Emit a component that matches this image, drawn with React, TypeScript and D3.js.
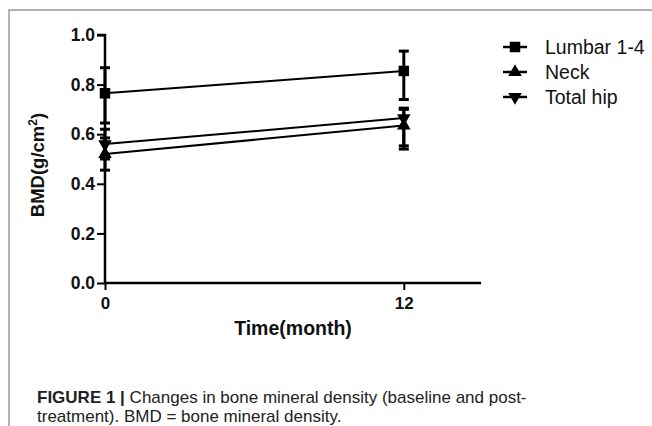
import React, { useRef, useEffect } from 'react';
import * as d3 from 'd3';

const months = [0, 12];
const seriesNames = ['Lumbar 1-4', 'Neck', 'Total hip'];
const lumbarMean = [0.765, 0.855];
const lumbarLow = [0.645, 0.74];
const lumbarHigh = [0.868, 0.935];
const neckMean = [0.52, 0.635];
const neckLow = [0.455, 0.54];
const neckHigh = [0.585, 0.705];
const hipMean = [0.56, 0.665];
const hipLow = [0.5, 0.553];
const hipHigh = [0.62, 0.7];
const yTicks = [0, 0.2, 0.4, 0.6, 0.8, 1.0];
const xTicks = [0, 12];

const App = () => {
    const svgRef = useRef(null);

    useEffect(() => {
        const svg = d3.select(svgRef.current);
        svg.selectAll("*").remove();
        const width = 652;
        const height = 426;

        // figure frame
        svg.append("path")
            .attr("d", `M9,${height} V10 H${width}`)
            .attr("fill", "none")
            .attr("stroke", "#9a9a9a")
            .attr("stroke-width", 1.5);

        const x = d3.scaleLinear().domain([0, 15.1]).range([105, 481]);
        const y = d3.scaleLinear().domain([0, 1]).range([283, 35]);

        const series = [
            { name: seriesNames[0], mean: lumbarMean, low: lumbarLow, high: lumbarHigh, sym: d3.symbolSquare, size: 110, rot: 0 },
            { name: seriesNames[1], mean: neckMean, low: neckLow, high: neckHigh, sym: d3.symbolTriangle, size: 80, rot: 0 },
            { name: seriesNames[2], mean: hipMean, low: hipLow, high: hipHigh, sym: d3.symbolTriangle, size: 80, rot: 180 },
        ];

        const font = "Liberation Sans, Arial, sans-serif";

        // y axis
        const yAxis = svg.append("g")
            .attr("transform", `translate(105,0)`)
            .call(d3.axisLeft(y).tickValues(yTicks).tickFormat(d3.format(".1f")).tickSize(8).tickPadding(2));
        yAxis.select(".domain").attr("stroke-width", 2.5).attr("d", `M-8,${y(1)}H0V${y(0)}`);
        yAxis.selectAll(".tick line").attr("stroke-width", 2);
        yAxis.selectAll("text")
            .attr("font-family", font)
            .attr("font-weight", "bold")
            .attr("font-size", 17.5)
            .attr("fill", "#111");

        // x axis
        const xAxis = svg.append("g")
            .attr("transform", `translate(0,283)`)
            .call(d3.axisBottom(x).tickValues(xTicks).tickSize(7).tickPadding(7));
        xAxis.select(".domain").attr("stroke-width", 2.5).attr("d", `M${x(0)},0H${x(15.1)}`);
        xAxis.selectAll(".tick line").attr("stroke-width", 2);
        xAxis.selectAll("text")
            .attr("font-family", font)
            .attr("font-weight", "bold")
            .attr("font-size", 17)
            .attr("fill", "#111");

        // axis titles
        svg.append("text")
            .attr("x", 293)
            .attr("y", 335)
            .attr("text-anchor", "middle")
            .attr("font-family", font)
            .attr("font-weight", "bold")
            .attr("font-size", 19.5)
            .attr("fill", "#111")
            .text("Time(month)");

        const yl = svg.append("text")
            .attr("transform", "translate(44,165) rotate(-90)")
            .attr("text-anchor", "middle")
            .attr("font-family", font)
            .attr("font-weight", "bold")
            .attr("font-size", 18.5)
            .attr("fill", "#111");
        yl.append("tspan").text("BMD(g/cm");
        yl.append("tspan").attr("font-size", 12).attr("dy", -7).text("2");
        yl.append("tspan").attr("dy", 7).text(")");

        const line = d3.line().x((d, i) => x(months[i])).y(d => y(d));

        series.forEach(s => {
            const g = svg.append("g");
            g.append("path")
                .attr("d", line(s.mean))
                .attr("fill", "none")
                .attr("stroke", "#000")
                .attr("stroke-width", 2);
            months.forEach((m, i) => {
                const cx = x(m);
                g.append("line")
                    .attr("x1", cx).attr("x2", cx)
                    .attr("y1", y(s.low[i])).attr("y2", y(s.high[i]))
                    .attr("stroke", "#000").attr("stroke-width", 3);
                [s.low[i], s.high[i]].forEach(v => {
                    g.append("line")
                        .attr("x1", cx - 5).attr("x2", cx + 5)
                        .attr("y1", y(v)).attr("y2", y(v))
                        .attr("stroke", "#000").attr("stroke-width", 3);
                });
                g.append("path")
                    .attr("d", d3.symbol().type(s.sym).size(s.size)())
                    .attr("transform", `translate(${cx},${y(s.mean[i])}) rotate(${s.rot})`)
                    .attr("fill", "#000");
            });
        });

        // legend
        const legend = svg.append("g").attr("transform", "translate(503,47)");
        series.forEach((s, i) => {
            const row = legend.append("g").attr("transform", `translate(0,${i * 25})`);
            row.append("line")
                .attr("x1", 0).attr("x2", 24)
                .attr("stroke", "#000").attr("stroke-width", 2.5);
            row.append("path")
                .attr("d", d3.symbol().type(s.sym).size(s.size)())
                .attr("transform", `translate(12,0) rotate(${s.rot})`)
                .attr("fill", "#000");
            row.append("text")
                .attr("x", 42)
                .attr("y", 7)
                .attr("font-family", font)
                .attr("font-size", 19.5)
                .attr("fill", "#111")
                .text(s.name);
        });

        // caption
        const cap1 = svg.append("text")
            .attr("x", 37)
            .attr("y", 403)
            .attr("font-family", font)
            .attr("font-size", 17)
            .attr("fill", "#222");
        cap1.append("tspan").attr("font-weight", "bold").text("FIGURE 1 | ");
        cap1.append("tspan").text("Changes in bone mineral density (baseline and post-");

        svg.append("text")
            .attr("x", 37)
            .attr("y", 422)
            .attr("font-family", font)
            .attr("font-size", 17)
            .attr("fill", "#222")
            .text("treatment). BMD = bone mineral density.");
    }, []);

    return <svg ref={svgRef} width={652} height={426} style={{ position: 'absolute', left: 0, top: 0, background: '#fff' }}></svg>;
};

export default App;
